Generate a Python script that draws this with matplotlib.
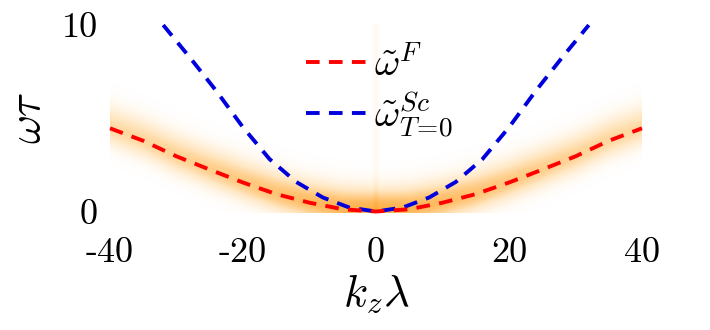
import os
import numpy as np
import matplotlib
matplotlib.use('Agg')
import matplotlib.pyplot as plt
from matplotlib.colors import LinearSegmentedColormap
from matplotlib.lines import Line2D
from matplotlib import font_manager as fm

cmr_path = os.path.join(matplotlib.get_data_path(), 'fonts', 'ttf', 'cmr10.ttf')
fm.fontManager.addfont(cmr_path)
plt.rcParams['mathtext.fontset'] = 'cm'
plt.rcParams['font.family'] = ['cmr10', 'DejaVu Serif']
plt.rcParams['axes.unicode_minus'] = False
plt.rcParams['axes.formatter.use_mathtext'] = True

# Data
k_F = [-40, -35, -30, -25, -20, -15, -10, -5, 0, 5, 10, 15, 20, 25, 30, 35, 40]
w_F = [4.45, 3.78, 2.95, 2.24, 1.55, 0.93, 0.47, 0.12, 0.0, 0.12, 0.47, 0.93, 1.55, 2.24, 2.95, 3.78, 4.45]
k_Sc = [-32, -28, -24, -20, -16, -12, -8, -4, 0, 4, 8, 12, 16, 20, 24, 28, 32]
w_Sc = [9.97, 8.24, 6.44, 4.5, 2.8, 1.58, 0.75, 0.21, 0.0, 0.21, 0.75, 1.58, 2.8, 4.5, 6.44, 8.24, 9.97]
xticks = [-40, -20, 0, 20, 40]
xticklabels = ['-40', '-20', '0', '20', '40']
yticks = [0, 10]
yticklabels = ['0', '10']
label_F = r'$\tilde{\omega}^{F}$'
label_Sc = r'$\tilde{\omega}^{Sc}_{T\!=\!0}$'

fig = plt.figure(figsize=(7.1, 3.3), dpi=100)
xlim = (-41, 41)
ylim = (-0.35, 10.35)
ppx = 6.65
ppy = 18.7
left_px = 376 + xlim[0] * ppx
bottom_px = 211.5 - ylim[0] * ppy
ax = fig.add_axes([left_px / 710, 1 - bottom_px / 330,
                   (xlim[1] - xlim[0]) * ppx / 710, (ylim[1] - ylim[0]) * ppy / 330])

# spectral density background around the F branch
kg = np.linspace(k_F[0], k_F[-1], 600)
wg = np.linspace(-0.1, 10, 400)
K, W = np.meshgrid(kg, wg)
W0 = np.interp(K, k_F, w_F)
sig = np.where(W > W0, 0.8, 0.65)
amp = 0.8 / (1 + np.abs(K) / 45.0)
I = amp * np.exp(-0.5 * ((W - W0) / sig) ** 2)
I += 0.12 * np.exp(-(K / 0.3) ** 2) * (1 - 0.6 * np.exp(-(K / 0.1) ** 2))
I = np.clip(I, 0, 1)
cmap = LinearSegmentedColormap.from_list('or', ['#ffffff', '#ffe6c0', '#ffbb60', '#fca020'])
ax.imshow(I, extent=[kg[0], kg[-1], wg[0], wg[-1]], origin='lower', aspect='auto',
          cmap=cmap, vmin=0, vmax=1, interpolation='bilinear', zorder=0)

ax.plot(k_F, w_F, color='#ff0000', lw=2.8, dashes=(3.5, 2.4), zorder=3)
ax.plot(k_Sc, w_Sc, color='#0000dd', lw=2.8, dashes=(3.5, 2.4), zorder=2)

ax.set_xlim(*xlim)
ax.set_ylim(*ylim)
ax.set_xticks(xticks)
ax.set_xticklabels(xticklabels, fontfamily='cmr10')
ax.set_yticks(yticks)
ax.set_yticklabels(yticklabels, fontfamily='cmr10')
ax.tick_params(length=0, labelsize=26)
ax.tick_params(axis='x', pad=14)
ax.tick_params(axis='y', pad=4)
for s in ax.spines.values():
    s.set_visible(False)

ax.set_xlabel(r'$k_z\lambda$', fontsize=32, labelpad=2)
ax.set_ylabel(r'$\omega\tau$', fontsize=32, labelpad=9)

handles = [Line2D([], [], color='#ff0000', lw=2.8, dashes=(3.5, 2.4)),
           Line2D([], [], color='#0000dd', lw=2.8, dashes=(3.5, 2.4))]
fig.legend(handles, [label_F, label_Sc], loc='upper left',
           bbox_to_anchor=(306 / 710, 1 - 46 / 330), frameon=False, fontsize=28,
           handlelength=1.6, handletextpad=0.15, labelspacing=0.15,
           borderpad=0, borderaxespad=0)

fig.savefig('out.png', dpi=100)
